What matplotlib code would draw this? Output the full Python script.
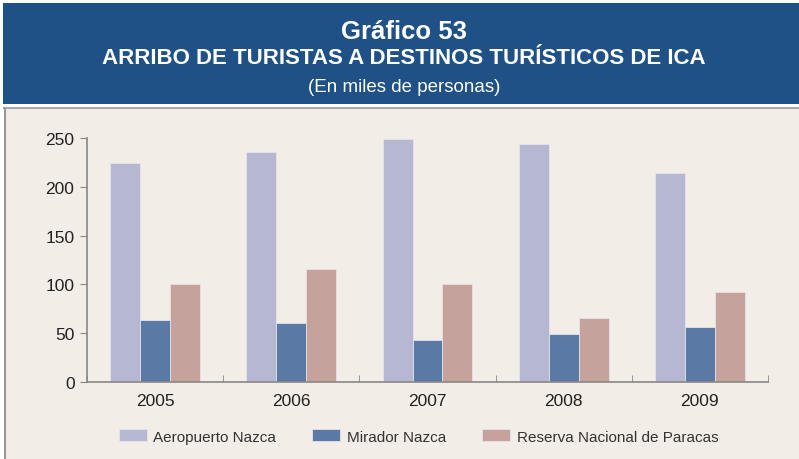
import numpy as np
import matplotlib.pyplot as plt
from matplotlib.patches import Rectangle

plt.rcParams['font.family'] = ['Liberation Sans', 'DejaVu Sans']

# data (miles de personas)
years = ['2005', '2006', '2007', '2008', '2009']
aeropuerto = [224, 236, 249, 244, 214]
mirador = [63.5, 60.5, 43, 49, 56]
reserva = [100, 116, 100, 66, 92]
series_names = ['Aeropuerto Nazca', 'Mirador Nazca', 'Reserva Nacional de Paracas']
colors = ['#B6B7D0', '#5B79A5', '#C6A29D']

bg = '#F2EDE6'
header_blue = '#1F5187'

fig = plt.figure(figsize=(7.99, 4.60), dpi=100)
fig.patch.set_facecolor('white')

W, H = 799, 460
# header box
fig.patches.append(Rectangle((3 / W, 1 - 105 / H), 796 / W, 101 / H,
                             transform=fig.transFigure, facecolor=header_blue,
                             edgecolor='none', zorder=-2))
# chart panel
fig.patches.append(Rectangle((4 / W, 0), 795 / W, 1 - 110 / H,
                             transform=fig.transFigure, facecolor=bg,
                             edgecolor='none', zorder=-2))
fig.add_artist(plt.Line2D([4 / W, 1], [1 - 109 / H] * 2, color='#AAAAAA', lw=1.5, zorder=-1))
fig.add_artist(plt.Line2D([4.5 / W] * 2, [0, 1 - 109 / H], color='#999999', lw=1.5, zorder=-1))

cx = 404 / W
fig.text(cx, 1 - 32 / H, 'Gráfico 53', ha='center', va='center', color='white',
         fontsize=18.5, fontweight='bold')
fig.text(cx, 1 - 59 / H, 'ARRIBO DE TURISTAS A DESTINOS TURÍSTICOS DE ICA',
         ha='center', va='center', color='white', fontsize=16, fontweight='bold')
fig.text(cx, 1 - 87 / H, '(En miles de personas)', ha='center', va='center',
         color='white', fontsize=13.5)

ax = fig.add_axes([87 / W, 1 - 383 / H, (768 - 87) / W, (383 - 139) / H])
ax.set_zorder(2)
ax.set_facecolor(bg)

x = np.arange(len(years))
w = 0.22
for i, (vals, name, c) in enumerate(zip([aeropuerto, mirador, reserva], series_names, colors)):
    ax.bar(x + (i - 1) * w, vals, w, color=c, label=name,
           edgecolor='#E4E2EA', linewidth=0.6)

ax.set_xlim(-0.5, len(years) - 0.5)
ax.set_ylim(0, 250)
ax.set_yticks(range(0, 251, 50))
ax.set_xticks(x)
ax.set_xticklabels(years)
ax.set_xticks(np.arange(-0.5, len(years)), minor=True)
ax.tick_params(axis='x', which='major', length=0, pad=8, labelsize=12.5, labelcolor='#222222')
ax.tick_params(axis='x', which='minor', length=5, direction='in', color='#888888')
ax.tick_params(axis='y', length=5, color='#888888', labelsize=12.5, labelcolor='#222222', pad=4)
for s in ['top', 'right']:
    ax.spines[s].set_visible(False)
for s in ['left', 'bottom']:
    ax.spines[s].set_color('#888888')
    ax.spines[s].set_linewidth(1.2)

leg = fig.legend(loc='center', bbox_to_anchor=(418.5 / W, 1 - 437.5 / H), ncol=3,
                 frameon=False, fontsize=11, handlelength=1.83, handleheight=0.85,
                 columnspacing=2.4, handletextpad=0.4)
for t in leg.get_texts():
    t.set_color('#333333')

fig.savefig('out.png', dpi=100, facecolor=fig.get_facecolor())
